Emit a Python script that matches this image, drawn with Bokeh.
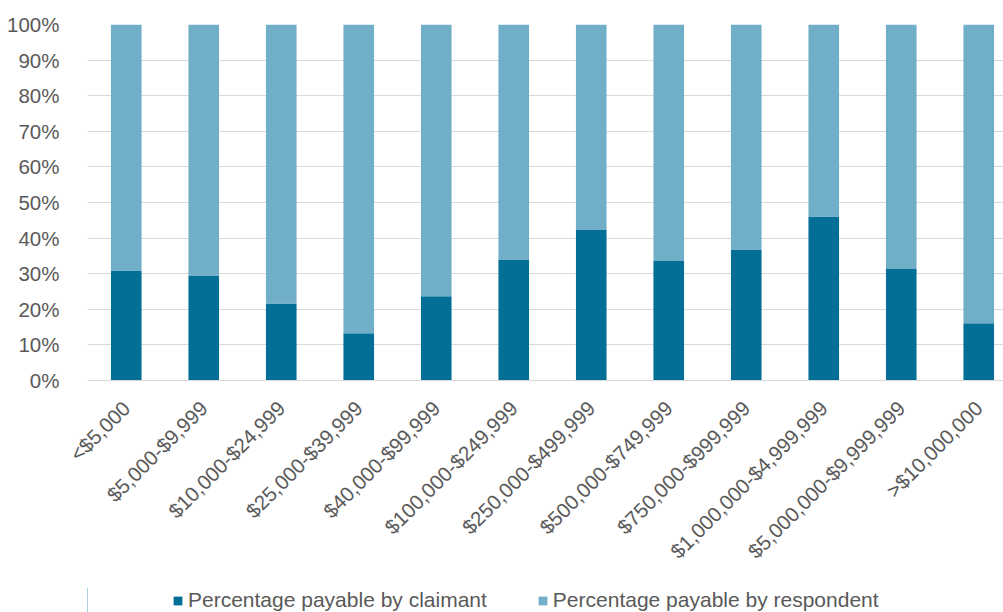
import numpy as np
from bokeh.plotting import figure
from bokeh.layouts import column
from bokeh.models import (ColumnDataSource, Range1d, FixedTicker, NumeralTickFormatter,
                          Legend, LegendItem)
from bokeh.embed import file_html
from bokeh.resources import INLINE

categories = ["<$5,000", "$5,000-$9,999", "$10,000-$24,999", "$25,000-$39,999",
              "$40,000-$99,999", "$100,000-$249,999", "$250,000-$499,999",
              "$500,000-$749,999", "$750,000-$999,999", "$1,000,000-$4,999,999",
              "$5,000,000-$9,999,999", ">$10,000,000"]
claimant = [30.9, 29.5, 21.6, 13.3, 23.7, 34.0, 42.3, 33.6, 36.8, 46.1, 31.3, 16.1]
respondent = [100 - c for c in claimant]
series_names = ["Percentage payable by claimant", "Percentage payable by respondent"]
y_ticks = [0, 0.1, 0.2, 0.3, 0.4, 0.5, 0.6, 0.7, 0.8, 0.9, 1.0]

DARK = "#046F96"
LIGHT = "#71AFC9"
TEXT = "#595959"
GRID = "#D9D9D9"
FONT = "Liberation Sans"

FW = 916
xpos = np.arange(len(categories)).astype(float)
src = ColumnDataSource(dict(
    x=xpos,
    claimant=np.array(claimant) / 100.0,
    respondent=np.array(respondent) / 100.0,
))

p = figure(frame_width=FW, frame_height=356,
           x_range=Range1d(-0.5, -0.5 + FW / 77.5), y_range=Range1d(0, 1),
           output_backend="svg", toolbar_location=None,
           min_border_left=87, min_border_right=0, min_border_top=24, min_border_bottom=207)

r = p.vbar_stack(["claimant", "respondent"], x="x", width=0.395, source=src,
                 color=[DARK, LIGHT], line_color=None)

p.outline_line_color = None
p.background_fill_color = "white"
p.border_fill_color = "white"

p.xgrid.grid_line_color = None
p.ygrid.grid_line_color = GRID
p.ygrid.grid_line_width = 1

p.yaxis.ticker = FixedTicker(ticks=y_ticks)
p.yaxis.formatter = NumeralTickFormatter(format="0%")
p.yaxis.axis_line_color = None
p.yaxis.major_tick_line_color = None
p.yaxis.minor_tick_line_color = None
p.yaxis.major_label_standoff = 22
p.yaxis.major_label_text_font = FONT
p.yaxis.major_label_text_font_size = "20.5px"
p.yaxis.major_label_text_color = TEXT

p.xaxis.ticker = FixedTicker(ticks=list(xpos))
p.xaxis.major_label_overrides = {float(i): c for i, c in enumerate(categories)}
p.xaxis.major_label_orientation = np.pi / 4
p.xaxis.axis_line_color = GRID
p.xaxis.major_tick_line_color = None
p.xaxis.minor_tick_line_color = None
p.xaxis.major_label_standoff = 18
p.xaxis.major_label_text_font = FONT
p.xaxis.major_label_text_font_size = "20.5px"
p.xaxis.major_label_text_color = TEXT

# Legend strip below the chart (proxy renderers lie outside the visible range)
leg_fig = figure(frame_width=1003, frame_height=25,
                 x_range=Range1d(0, 1), y_range=Range1d(0, 1),
                 x_axis_location=None, y_axis_location=None,
                 output_backend="svg", toolbar_location=None,
                 min_border_left=0, min_border_right=0, min_border_top=0, min_border_bottom=0)
leg_fig.grid.visible = False
leg_fig.outline_line_color = None
leg_fig.background_fill_color = "white"
leg_fig.border_fill_color = "white"
proxy = ColumnDataSource(dict(x=[-10.0], top=[1.0]))
d1 = leg_fig.vbar(x="x", top="top", width=0.1, source=proxy, fill_color=DARK, line_color=None)
d2 = leg_fig.vbar(x="x", top="top", width=0.1, source=proxy, fill_color=LIGHT, line_color=None)

legend = Legend(items=[LegendItem(label=series_names[0], renderers=[d1]),
                       LegendItem(label=series_names[1], renderers=[d2])],
                orientation="horizontal", location=(172, 0),
                glyph_width=11, glyph_height=11, label_standoff=5, spacing=50,
                padding=0, margin=0, border_line_color=None, background_fill_alpha=0,
                label_text_font=FONT, label_text_font_size="21px", label_text_color=TEXT)
leg_fig.add_layout(legend, "center")

layout = column(p, leg_fig, spacing=0)
open("out.html", "w").write(file_html(layout, INLINE))
